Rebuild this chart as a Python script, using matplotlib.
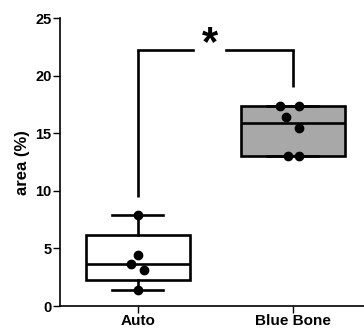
import numpy as np
import matplotlib.pyplot as plt

plt.rcParams['font.family'] = ['Liberation Sans', 'DejaVu Sans']
plt.rcParams['font.weight'] = 'bold'

# groups and measured values (area %)
groups = ['Auto', 'Blue Bone']
auto_vals = [7.9, 4.45, 3.65, 3.1, 1.4]
bluebone_vals = [17.4, 17.4, 16.45, 15.45, 13.05, 13.05]
# horizontal jitter of the dots (plot units)
auto_jit = [0.0, 0.0, -0.04, 0.04, 0.0]
bluebone_jit = [-0.08, 0.04, -0.04, 0.04, -0.03, 0.04]

sig_label = '*'
bracket_low = [9.5, 19.0]
bracket_top = 22.3

data = [auto_vals, bluebone_vals]
jits = [auto_jit, bluebone_jit]
fills = ['white', '#a8a8a8']

# box stats like GraphPad: quartiles at (n+1)p, whiskers min to max
stats = []
for d in data:
    q1, med, q3 = np.percentile(d, [25, 50, 75], method='weibull')
    stats.append(dict(med=med, q1=q1, q3=q3, whislo=min(d), whishi=max(d), fliers=[]))

fig = plt.figure(figsize=(3.64, 3.29), dpi=100)
ax = fig.add_axes([0.165, 0.0699, 0.852, 0.874])

pos = [1, 2]
lw = 1.9
bp = ax.bxp(stats, positions=pos, widths=0.67, patch_artist=True, showfliers=False,
            boxprops=dict(linewidth=lw, edgecolor='black'),
            medianprops=dict(color='black', linewidth=lw),
            whiskerprops=dict(color='black', linewidth=lw),
            capprops=dict(color='black', linewidth=lw), capwidths=0.33)
for patch, c in zip(bp['boxes'], fills):
    patch.set_facecolor(c)

for p, d, j in zip(pos, data, jits):
    ax.plot(np.array(j) + p, d, 'o', color='black', markersize=6, zorder=5)

# significance bracket
ax.plot([1, 1], [bracket_low[0], bracket_top], color='black', lw=lw, solid_capstyle='butt')
ax.plot([2, 2], [bracket_low[1], bracket_top], color='black', lw=lw, solid_capstyle='butt')
ax.plot([1, 1.36], [bracket_top, bracket_top], color='black', lw=lw, solid_capstyle='projecting')
ax.plot([1.57, 2], [bracket_top, bracket_top], color='black', lw=lw, solid_capstyle='projecting')
ax.text(1.465, bracket_top + 0.45, sig_label, ha='center', va='center', fontsize=30, fontweight='bold')

ax.set_xlim(0.5, 2.5)
ax.set_ylim(0, 25)
ax.set_yticks([0, 5, 10, 15, 20, 25])
ax.set_xticks(pos)
ax.set_xticklabels(groups, fontsize=11)
ax.set_ylabel('area (%)', fontsize=12, fontweight='bold', labelpad=4)
ax.tick_params(axis='y', labelsize=10.5)
ax.tick_params(width=1, length=5, pad=1)
ax.spines['top'].set_visible(False)
ax.spines['right'].set_visible(False)
ax.spines['left'].set_linewidth(1.2)
ax.spines['bottom'].set_linewidth(1.2)

fig.savefig('out.png', dpi=100)
